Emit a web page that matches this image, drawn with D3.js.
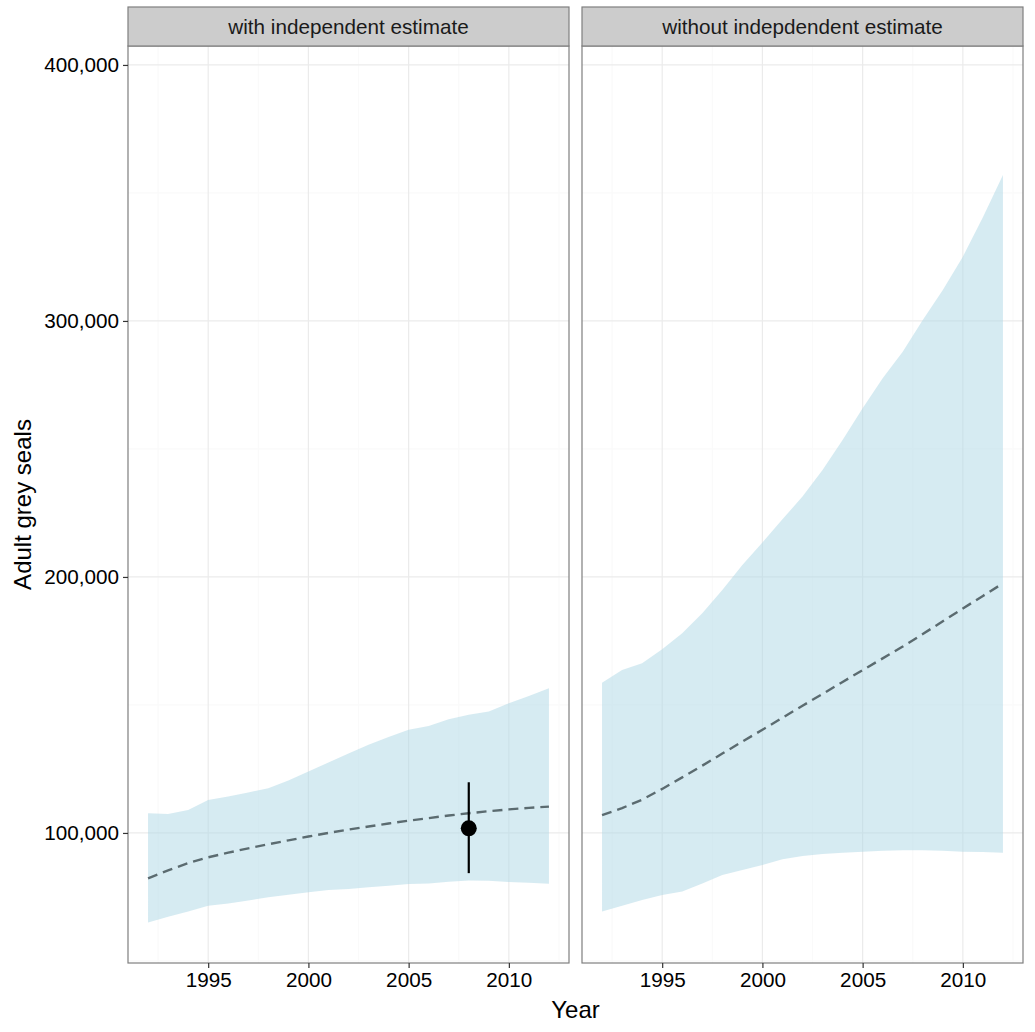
<!DOCTYPE html>
<html>
<head>
<meta charset="utf-8">
<script src="https://cdn.jsdelivr.net/npm/d3@7"></script>
<style>
  body { margin: 0; background: #fff; }
  text { font-family: "Liberation Sans", Arial, Helvetica, sans-serif; }
</style>
</head>
<body>
<div id="graph"></div>
<script>
// data
var annees = [1992, 1993, 1994, 1995, 1996, 1997, 1998, 1999, 2000, 2001, 2002,
              2003, 2004, 2005, 2006, 2007, 2008, 2009, 2010, 2011, 2012];

var avec_haut = [107700, 107400, 109000, 112900, 114200, 115800, 117500, 120500, 124000, 127500, 131000,
                 134500, 137500, 140300, 141800, 144400, 146200, 147400, 150700, 153500, 156500];
var avec_bas = [65000, 67300, 69300, 71600, 72400, 73600, 74900, 75900, 76800, 77700, 78100,
                78800, 79400, 80100, 80300, 80900, 81400, 81300, 80800, 80500, 80200];
var avec_moy = [82300, 85400, 88200, 90500, 92300, 94000, 95600, 97100, 98600, 100000, 101300,
                102500, 103700, 104800, 105800, 106800, 107700, 108500, 109200, 109800, 110300];

var sans_haut = [158700, 163700, 166300, 171800, 178000, 185800, 194900, 204700, 213500, 222500, 231400,
                 241800, 253500, 265900, 277600, 288000, 300400, 312100, 325100, 340500, 357000];
var sans_bas = [69300, 71600, 73800, 75800, 77100, 80300, 83600, 85500, 87500, 89700, 91000,
                91800, 92300, 92700, 93000, 93200, 93200, 93000, 92700, 92600, 92300];
var sans_moy = [107000, 109700, 113000, 117200, 121700, 126300, 131000, 135700, 140300, 145000, 149700,
                154300, 159000, 163600, 168200, 172800, 177700, 182700, 187700, 192600, 197500];

// independent estimate (2008) with its interval
var estimation = [{annee: 2008, valeur: 101800, bas: 84300, haut: 119800}];

var panneaux = ["with independent estimate", "without indepdendent estimate"];
var ticks_x = [1995, 2000, 2005, 2010];
var ticks_x_mineurs = [1992.5, 1997.5, 2002.5, 2007.5, 2012.5];
var ticks_y = [100000, 200000, 300000, 400000];
var ticks_y_mineurs = [50000, 150000, 250000, 350000];

function dessin() {
    var largeur = 1035, hauteur = 1032,
        haut_panneau = 46, bas_panneau = 963,
        haut_bandeau = 7,
        gauches = [128, 582], larg_panneau = 441,
        taille_texte = "20.7px",

        couleur_bande = "#add8e6",
        couleur_moy = "#5b6b70",

        svg = d3.select("#graph")
            .append("svg")
                .attr("width", largeur)
                .attr("height", hauteur),

        y = d3.scaleLinear()
            .domain([49200, 407400])
            .range([bas_panneau, haut_panneau]),

        series = [
            {haut: avec_haut, bas: avec_bas, moy: avec_moy, point: true},
            {haut: sans_haut, bas: sans_bas, moy: sans_moy, point: false}
        ];

    series.forEach(function (s, i) {
        var x = d3.scaleLinear()
                .domain([1991, 2013])
                .range([gauches[i], gauches[i] + larg_panneau]),
            donnees = annees.map(function (a, j) {
                return {annee: a, haut: s.haut[j], bas: s.bas[j], moy: s.moy[j]};
            }),
            g = svg.append("g");

        // grid
        g.selectAll(".mineur-y")
            .data(ticks_y_mineurs)
            .enter()
            .append("line")
            .attr("x1", x.range()[0]).attr("x2", x.range()[1])
            .attr("y1", function (d) { return y(d); })
            .attr("y2", function (d) { return y(d); })
            .style("stroke", "#fafafa").style("stroke-width", 1.2);
        g.selectAll(".mineur-x")
            .data(ticks_x_mineurs)
            .enter()
            .append("line")
            .attr("x1", function (d) { return x(d); })
            .attr("x2", function (d) { return x(d); })
            .attr("y1", haut_panneau).attr("y2", bas_panneau)
            .style("stroke", "#fafafa").style("stroke-width", 1.2);
        g.selectAll(".majeur-y")
            .data(ticks_y)
            .enter()
            .append("line")
            .attr("x1", x.range()[0]).attr("x2", x.range()[1])
            .attr("y1", function (d) { return y(d); })
            .attr("y2", function (d) { return y(d); })
            .style("stroke", "#ebebeb").style("stroke-width", 1.2);
        g.selectAll(".majeur-x")
            .data(ticks_x)
            .enter()
            .append("line")
            .attr("x1", function (d) { return x(d); })
            .attr("x2", function (d) { return x(d); })
            .attr("y1", haut_panneau).attr("y2", bas_panneau)
            .style("stroke", "#ebebeb").style("stroke-width", 1.2);

        // ribbon
        g.append("path")
            .datum(donnees)
            .attr("fill", couleur_bande)
            .attr("fill-opacity", 0.5)
            .attr("d", d3.area()
                .x(function (d) { return x(d.annee); })
                .y0(function (d) { return y(d.bas); })
                .y1(function (d) { return y(d.haut); })
                );

        // mean
        g.append("path")
            .datum(donnees)
            .attr("fill", "none")
            .attr("stroke", couleur_moy)
            .attr("stroke-width", 2.4)
            .style("stroke-dasharray", "10 6")
            .attr("d", d3.line()
                .x(function (d) { return x(d.annee); })
                .y(function (d) { return y(d.moy); })
                );

        if (s.point) {
            g.selectAll(".barre")
                .data(estimation)
                .enter()
                .append("line")
                .attr("x1", function (d) { return x(d.annee); })
                .attr("x2", function (d) { return x(d.annee); })
                .attr("y1", function (d) { return y(d.bas); })
                .attr("y2", function (d) { return y(d.haut); })
                .style("stroke", "black").style("stroke-width", 2.2);
            g.selectAll(".point")
                .data(estimation)
                .enter()
                .append("circle")
                .attr("cx", function (d) { return x(d.annee); })
                .attr("cy", function (d) { return y(d.valeur); })
                .attr("r", 8)
                .style("fill", "black");
        }

        // panel border
        g.append("rect")
            .attr("x", x.range()[0]).attr("y", haut_panneau)
            .attr("width", larg_panneau).attr("height", bas_panneau - haut_panneau)
            .style("fill", "none").style("stroke", "#7f7f7f").style("stroke-width", 1.2);

        // strip
        g.append("rect")
            .attr("x", x.range()[0]).attr("y", haut_bandeau)
            .attr("width", larg_panneau).attr("height", haut_panneau - haut_bandeau)
            .style("fill", "#cccccc").style("stroke", "#7f7f7f").style("stroke-width", 1.2);
        g.append("text")
            .attr("x", x.range()[0] + larg_panneau / 2)
            .attr("y", (haut_bandeau + haut_panneau) / 2)
            .attr("dy", "0.35em")
            .style("text-anchor", "middle")
            .style("font-size", taille_texte)
            .style("fill", "#1a1a1a")
            .text(panneaux[i]);

        // x axis
        var axe_x = g.append("g")
            .attr("transform", "translate(0," + bas_panneau + ")")
            .call(d3.axisBottom(x).tickValues(ticks_x).tickFormat(d3.format("d"))
                .tickSizeInner(5).tickSizeOuter(0).tickPadding(4));
        axe_x.select(".domain").remove();
        axe_x.selectAll("line").style("stroke", "#333").style("stroke-width", 1.2);
        axe_x.selectAll("text").style("font-size", taille_texte).style("fill", "#000")
            .style("font-family", "'Liberation Sans', Arial, sans-serif");
    });

    // y axis (left panel only)
    var axe_y = svg.append("g")
        .attr("transform", "translate(" + gauches[0] + ",0)")
        .call(d3.axisLeft(y).tickValues(ticks_y).tickFormat(d3.format(","))
            .tickSizeInner(5).tickSizeOuter(0).tickPadding(4));
    axe_y.select(".domain").remove();
    axe_y.selectAll("line").style("stroke", "#333").style("stroke-width", 1.2);
    axe_y.selectAll("text").style("font-size", taille_texte).style("fill", "#000")
        .style("font-family", "'Liberation Sans', Arial, sans-serif");

    svg.append("text")
        .attr("x", (gauches[0] + gauches[1] + larg_panneau) / 2)
        .attr("y", 1018)
        .style("text-anchor", "middle")
        .style("font-size", "24px")
        .text("Year");

    svg.append("text")
        .attr("transform", "translate(31," + (haut_panneau + bas_panneau) / 2 + ") rotate(-90)")
        .style("text-anchor", "middle")
        .style("font-size", "24px")
        .text("Adult grey seals");
}

dessin();
</script>
</body>
</html>
